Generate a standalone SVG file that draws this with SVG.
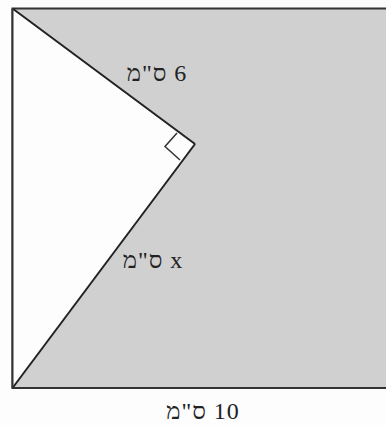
<svg xmlns="http://www.w3.org/2000/svg" width="386" height="425" viewBox="0 0 386 425">
<style>
.lbl{font-family:"Liberation Serif","DejaVu Serif",serif;font-size:24px;fill:#222;text-anchor:middle;letter-spacing:1px}
.edge{stroke:#222;stroke-width:2;fill:none}
</style>
<rect x="0" y="0" width="386" height="425" fill="#fdfdfd"/>
<g id="rectangle">
<rect x="12.5" y="8.5" width="390" height="379.5" fill="#d0d0d0" stroke="#333" stroke-width="2"/>
</g>
<g id="triangle">
<polygon points="12.5,8.5 195,144 12.5,388" fill="#fdfdfd" stroke="none"/>
</g>
<g id="connectors">
<line class="edge" x1="12.5" y1="8.5" x2="195" y2="144"/>
<line class="edge" x1="195" y1="144" x2="12.5" y2="388"/>
<line x1="12.5" y1="8.5" x2="12.5" y2="388" stroke="#333" stroke-width="2"/>
<polyline points="177,133 165,146.5 180,160" fill="none" stroke="#333" stroke-width="1.5"/>
</g>
<g id="labels">
<text class="lbl" x="157" y="81" direction="rtl">6 ס"מ</text>
<text class="lbl" x="153" y="268" direction="rtl">x ס"מ</text>
<text class="lbl" x="203" y="419" direction="rtl">10 ס"מ</text>
</g>
</svg>
